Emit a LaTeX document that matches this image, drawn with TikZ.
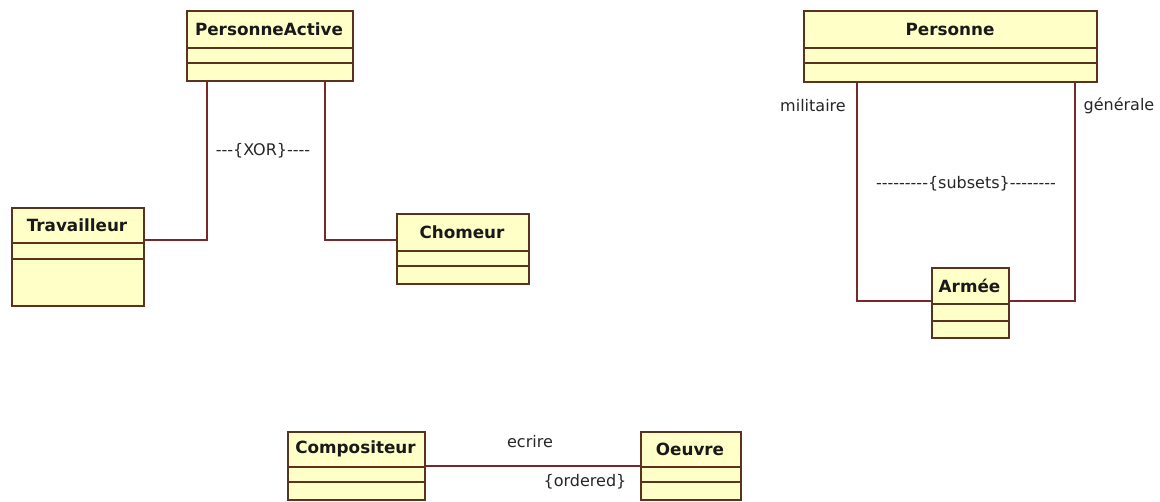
\documentclass[tikz,border=0pt]{standalone}
\usepackage{fontspec}
\setmainfont{DejaVu Sans}[Ligatures=NoCommon]
\newfontfamily\lblfont{DejaVu Sans}
\usetikzlibrary{calc}
\definecolor{clsfill}{RGB}{255,255,200}
\definecolor{clsdraw}{RGB}{90,50,30}
\definecolor{assoccol}{RGB}{120,40,40}
\tikzset{
  cls/.style={draw=clsdraw, fill=clsfill, line width=1.6pt, rectangle, inner sep=0pt, anchor=north west},
  comp/.style={draw=clsdraw, line width=1.5pt},
  ttl/.style={font=\fontsize{16.8}{19}\selectfont\bfseries, text=black!90, inner sep=0pt},
  lbl/.style={font=\lblfont\fontsize{16}{18}\selectfont, text=black!85, inner sep=0pt},
  assoc/.style={draw=assoccol, line width=1.5pt}
}
\begin{document}
\begin{tikzpicture}[x=1pt, y=-1pt]
\useasboundingbox[fill=white] (0,0) rectangle (1160,501);

% PersonneActive
\node[cls, minimum width=166pt, minimum height=70pt] (pa) at (186,10) {};
\draw[comp] (186,48) -- (352,48); \draw[comp] (186,63) -- (352,63);
\node[ttl] (pat) at (269,29) {PersonneActive};

% Travailleur
\node[cls, minimum width=132pt, minimum height=98pt] (trav) at (11,207) {};
\draw[comp] (11,243) -- (143,243); \draw[comp] (11,259) -- (143,259);
\node[ttl] (travt) at (77,225) {Travailleur};

% Chomeur
\node[cls, minimum width=132pt, minimum height=70pt] (cho) at (396,213) {};
\draw[comp] (396,251) -- (528,251); \draw[comp] (396,266) -- (528,266);
\node[ttl] (chot) at (462,232) {Chomeur};

% Personne
\node[cls, minimum width=293pt, minimum height=71pt] (pe) at (803,10) {};
\draw[comp] (803,48) -- (1096,48); \draw[comp] (803,63) -- (1096,63);
\node[ttl] (pet) at (950,29) {Personne};

% Armee
\node[cls, minimum width=77pt, minimum height=70pt] (arm) at (931,267) {};
\draw[comp] (931,304) -- (1008,304); \draw[comp] (931,321) -- (1008,321);
\node[ttl] (armt) at (969.5,285.5) {Armée};

% Compositeur
\node[cls, minimum width=137pt, minimum height=68pt] (comp) at (287,431) {};
\draw[comp] (287,467) -- (424,467); \draw[comp] (287,482) -- (424,482);
\node[ttl] (compt) at (355.5,449) {Compositeur};

% Oeuvre
\node[cls, minimum width=100pt, minimum height=68pt] (oeu) at (640,431) {};
\draw[comp] (640,467) -- (740,467); \draw[comp] (640,482) -- (740,482);
\node[ttl] (oeut) at (690,449) {Oeuvre};

% associations
\draw[assoc] ([xshift=21pt]pa.south west) |- ([yshift=-33pt]trav.north east);
\draw[assoc] ([xshift=-28.5pt]pa.south east) |- ([yshift=-27pt]cho.north west);
\draw[assoc] ([xshift=54pt]pe.south west) |- ([yshift=-34pt]arm.north west);
\draw[assoc] ([xshift=-22.5pt]pe.south east) |- ([yshift=-34pt]arm.north east);
\draw[assoc] ([yshift=-35pt]comp.north east) -- ([yshift=-35pt]oeu.north west);

% labels
\node[lbl] (xor) at (263,151) {-{}-{}-\{XOR\}-{}-{}-{}-};
\node[lbl] (sub) at (966,184) {-{}-{}-{}-{}-{}-{}-{}-{}-\{subsets\}-{}-{}-{}-{}-{}-{}-{}-};
\node[lbl] (mil) at (813,106) {militaire};
\node[lbl] (gen) at (1119,106) {générale};
\node[lbl] (ecr) at (530,442) {ecrire};
\node[lbl] (ord) at (585,482) {\{ordered\}};
\end{tikzpicture}
\end{document}
